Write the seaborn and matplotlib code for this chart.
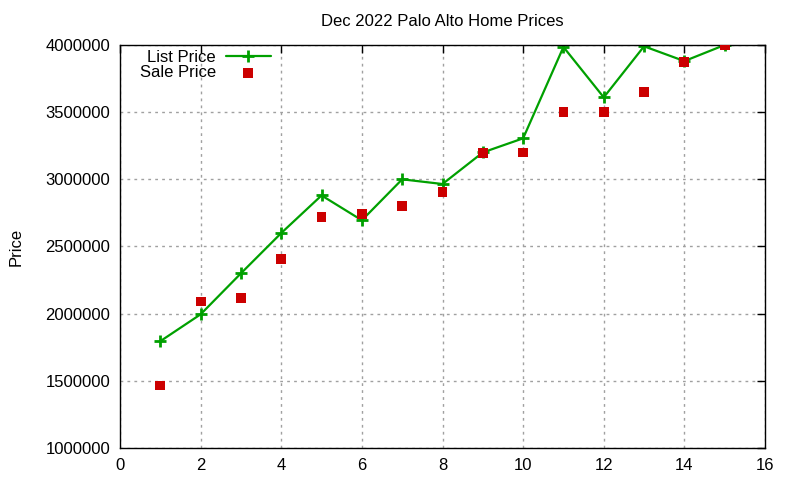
import matplotlib
matplotlib.use("Agg")
import pandas as pd
import seaborn as sns
import matplotlib.pyplot as plt
from matplotlib.ticker import FuncFormatter

# values
home = [1, 2, 3, 4, 5, 6, 7, 8, 9, 10, 11, 12, 13, 14, 15]
list_price = [1795000, 1995000, 2300000, 2600000, 2880000, 2695000, 3000000, 2965000,
              3200000, 3305000, 3985000, 3610000, 3990000, 3880000, 4000000]
sale_price = [1465000, 2090000, 2115000, 2405000, 2720000, 2740000, 2800000, 2905000,
              3195000, 3200000, 3500000, 3500000, 3650000, 3875000, 4000000]

df = pd.DataFrame({"home": home, "list": list_price, "sale": sale_price})

sns.set_style("white")
plt.rcParams["font.family"] = ["Liberation Sans", "DejaVu Sans"]
plt.rcParams["font.size"] = 12
plt.rcParams["text.color"] = "black"
plt.rcParams["axes.labelcolor"] = "black"
plt.rcParams["xtick.color"] = "black"
plt.rcParams["ytick.color"] = "black"

fig = plt.figure(figsize=(8, 4.8), dpi=100)
ax = fig.add_axes([0.15, 0.0667, 0.80625, 0.8396])

sns.lineplot(data=df, x="home", y="list", ax=ax, color="#00a000", linewidth=1.6,
             marker="+", markersize=9, markeredgewidth=2, markeredgecolor="#00a000",
             label="List Price")
sns.scatterplot(data=df, x="home", y="sale", ax=ax, color="#cc0000", marker="s",
                s=50, edgecolor="none", label="Sale Price", zorder=3)

ax.set_xlim(0, 16)
ax.set_ylim(1000000, 4000000)
ax.set_xticks(range(0, 17, 2))
ax.set_yticks(range(1000000, 4000001, 500000))
ax.yaxis.set_major_formatter(FuncFormatter(lambda v, p: "%d" % v))
ax.grid(True, color="#a0a0a0", linestyle=(0, (2, 3)), linewidth=1)
ax.tick_params(direction="in", length=6, width=1, color="black", top=True, right=True,
               labelsize=12, pad=7)
for s in ax.spines.values():
    s.set_color("black")
    s.set_linewidth(1)

ax.set_xlabel("")
ax.set_ylabel("Price", fontsize=12, labelpad=16)
ax.set_title("Dec 2022 Palo Alto Home Prices", fontsize=12, pad=14)

leg = ax.legend(loc="upper left", frameon=False, markerfirst=False, fontsize=12,
                bbox_to_anchor=(0.02, 1.005), handlelength=2.7, labelspacing=0.05,
                borderaxespad=0.0, handletextpad=0.6)

fig.savefig("out.png", dpi=100)
